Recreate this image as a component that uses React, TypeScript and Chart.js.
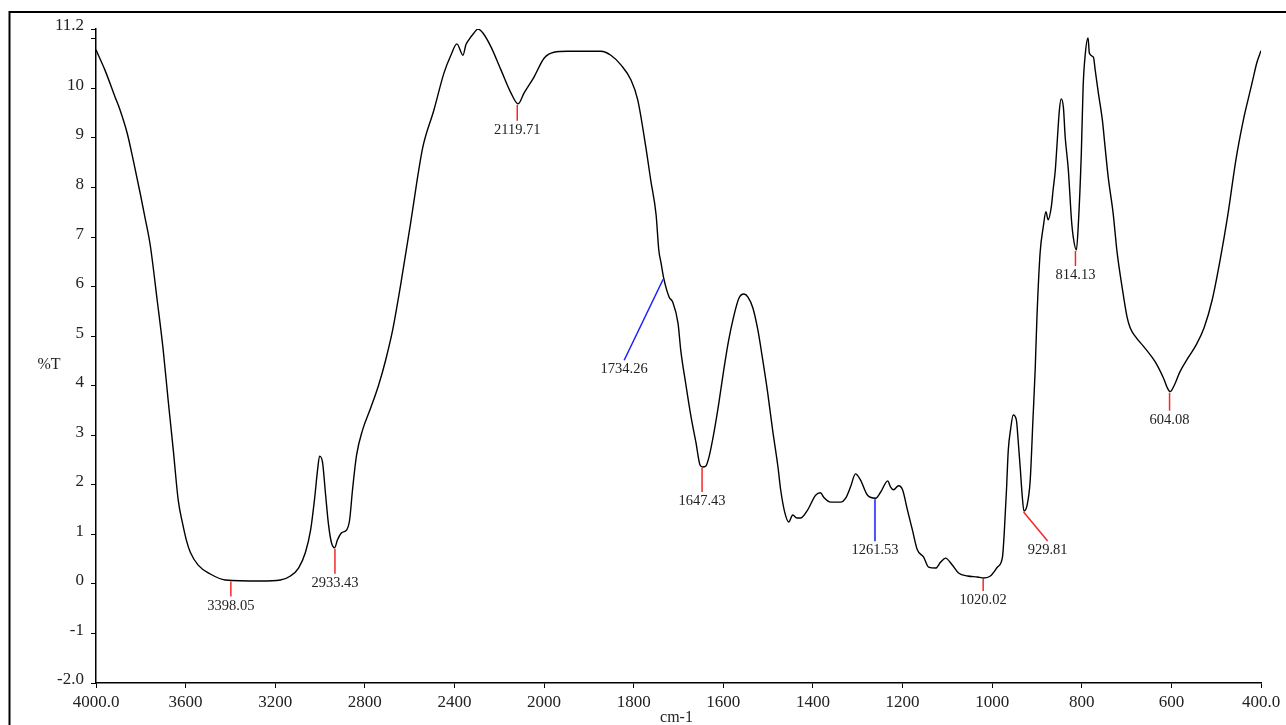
import React, { useEffect, useRef } from "react";
import { Chart, registerables } from "chart.js";

Chart.register(...registerables);

// Spectrum: wavenumber (cm-1) and %T
const wavenumbers = [
  4000, 3960, 3915, 3893, 3861, 3834, 3803, 3781, 3758, 3727, 3700, 3678, 3655, 3633, 3615, 3597, 3579, 3544, 3490, 3423,
  3266, 3177, 3132, 3096, 3065, 3042, 3025, 3011, 3002, 2989, 2975, 2962, 2949, 2935, 2922, 2904, 2881, 2868, 2855, 2837,
  2810, 2774, 2738, 2707, 2676, 2640, 2595, 2568, 2541, 2492, 2447, 2416, 2389, 2362, 2349, 2336, 2313, 2295, 2273, 2237,
  2192, 2148, 2116, 2089, 2045, 2000, 1978, 1947, 1873, 1851, 1828, 1806, 1791, 1773, 1762, 1750, 1744, 1739, 1733, 1721,
  1713, 1701, 1695, 1684, 1672, 1661, 1652, 1646, 1639, 1632, 1621, 1610, 1599, 1588, 1577, 1565, 1554, 1545, 1534, 1523,
  1512, 1501, 1490, 1478, 1472, 1463, 1454, 1445, 1436, 1427, 1412, 1394, 1383, 1376, 1360, 1338, 1327, 1316, 1305, 1294,
  1278, 1260, 1249, 1233, 1227, 1220, 1209, 1200, 1189, 1178, 1167, 1153, 1142, 1126, 1115, 1104, 1089, 1075, 1055, 1033,
  1019, 1004, 988, 977, 973, 968, 964, 959, 953, 946, 942, 937, 933, 929, 922, 915, 909, 904, 900, 893,
  886, 880, 875, 868, 864, 859, 855, 850, 846, 841, 837, 830, 823, 819, 812, 808, 801, 797, 792, 786,
  783, 774, 770, 763, 754, 748, 741, 730, 721, 710, 699, 692, 681, 659, 636, 618, 607, 603, 594, 581,
  563, 545, 527, 509, 492, 474, 456, 438, 429, 420, 409, 400,
];
const transmittance = [
  10.78, 10.37, 9.83, 9.57, 9.1, 8.56, 7.89, 7.39, 6.84, 5.73, 4.72, 3.71, 2.7, 1.69, 1.25, 0.89, 0.64, 0.38, 0.2, 0.08,
  0.06, 0.08, 0.16, 0.32, 0.64, 1.09, 1.69, 2.3, 2.58, 2.46, 1.79, 1.19, 0.83, 0.73, 0.89, 1.03, 1.09, 1.29, 1.9, 2.6,
  3.11, 3.55, 4.02, 4.52, 5.12, 6.04, 7.3, 8.11, 8.82, 9.56, 10.31, 10.67, 10.9, 10.67, 10.88, 10.98, 11.12, 11.2, 11.12, 10.84,
  10.37, 9.91, 9.69, 9.91, 10.23, 10.61, 10.73, 10.75, 10.75, 10.67, 10.47, 10.17, 9.77, 8.82, 8.15, 7.45, 6.74, 6.48, 6.17, 5.79,
  5.69, 5.26, 4.72, 4.05, 3.37, 2.85, 2.4, 2.36, 2.38, 2.56, 3.05, 3.65, 4.32, 4.92, 5.39, 5.77, 5.85, 5.79, 5.57, 5.13,
  4.52, 3.86, 3.11, 2.36, 1.9, 1.45, 1.25, 1.39, 1.33, 1.33, 1.49, 1.79, 1.84, 1.75, 1.65, 1.65, 1.73, 1.96, 2.22, 2.1,
  1.79, 1.73, 1.85, 2.08, 1.96, 1.9, 1.98, 1.9, 1.49, 1.09, 0.69, 0.54, 0.34, 0.32, 0.44, 0.52, 0.38, 0.22, 0.16, 0.14,
  0.12, 0.16, 0.34, 0.54, 1.03, 1.9, 2.7, 3.11, 3.41, 3.31, 2.9, 2.3, 1.79, 1.47, 1.59, 2.1, 3.31, 4.32, 5.39, 6.68,
  7.2, 7.51, 7.35, 7.61, 7.95, 8.36, 8.9, 9.56, 9.79, 9.62, 9.02, 8.36, 7.35, 7.0, 6.74, 7.2, 8.69, 10.03, 10.71, 11.02,
  10.71, 10.63, 10.37, 9.91, 9.36, 8.82, 8.21, 7.48, 6.68, 5.99, 5.39, 5.17, 5.0, 4.76, 4.48, 4.16, 3.92, 3.88, 4.0, 4.28,
  4.56, 4.82, 5.17, 5.73, 6.5, 7.45, 8.56, 9.42, 9.77, 10.11, 10.53, 10.76,
];

// Axis ticks
const xTickValues = [4000, 3600, 3200, 2800, 2400, 2000, 1800, 1600, 1400, 1200, 1000, 800, 600, 400];
const xTickLabels = ["4000.0", "3600", "3200", "2800", "2400", "2000", "1800", "1600", "1400", "1200", "1000", "800", "600", "400.0"];
const yTickValues = [-2, -1, 0, 1, 2, 3, 4, 5, 6, 7, 8, 9, 10, 11, 11.2];
const yTickLabels = ["-2.0", "-1", "0", "1", "2", "3", "4", "5", "6", "7", "8", "9", "10", "", "11.2"];

// Peak annotations
const peakWavenumbers = [3398.05, 2933.43, 2119.71, 1734.26, 1647.43, 1261.53, 1020.02, 929.81, 814.13, 604.08];
const peakTransmittance = [0.07, 0.73, 9.69, 6.17, 2.36, 1.73, 0.12, 1.47, 6.74, 3.88];
const peakLabels = ["3398.05", "2933.43", "2119.71", "1734.26", "1647.43", "1261.53", "1020.02", "929.81", "814.13", "604.08"];

// Marker styles (leader line offsets in px, colour)
const RED = "rgb(245,40,40)";
const BLUE = "rgb(30,30,250)";
const LIGHTBLUE = "rgb(80,80,255)";
const peakStyles = [
  { dx: 0, dy: 15, color: RED, w: 1.5 },
  { dx: 0, dy: 25, color: RED, w: 1.5 },
  { dx: 0, dy: 16, color: RED, w: 1.5 },
  { dx: -39, dy: 81, color: BLUE, w: 1.5 },
  { dx: 0, dy: 24, color: RED, w: 1.5 },
  { dx: 0, dy: 42, color: LIGHTBLUE, w: 2 },
  { dx: 0, dy: 12, color: RED, w: 1.5 },
  { dx: 24, dy: 29, color: RED, w: 1.5 },
  { dx: 0, dy: 15, color: RED, w: 1.5 },
  { dx: 0, dy: 18, color: RED, w: 1.5 },
];

const FONT = "'Liberation Serif', 'Times New Roman', serif";

// Split wavenumber axis: 4000-2000 at half the density of 2000-400
const toAxis = (wn: number) => (wn >= 2000 ? (4000 - wn) / 2 : 1000 + (2000 - wn));

const overlayPlugin = {
  id: "overlay",
  afterDatasetsDraw(chart: any) {
    const { ctx, scales, chartArea } = chart;
    const x = scales.x;
    const y = scales.y;
    ctx.save();
    // peaks
    peakWavenumbers.forEach((wn, i) => {
      const s = peakStyles[i];
      const px = x.getPixelForValue(toAxis(wn));
      const py = y.getPixelForValue(peakTransmittance[i]) + 1;
      ctx.strokeStyle = s.color;
      ctx.lineWidth = s.w;
      ctx.beginPath();
      ctx.moveTo(px, py);
      ctx.lineTo(px + s.dx, py + s.dy);
      ctx.stroke();
      ctx.fillStyle = "#222";
      ctx.font = `14.5px ${FONT}`;
      ctx.textAlign = "center";
      ctx.textBaseline = "top";
      ctx.fillText(peakLabels[i], px + s.dx, py + s.dy + 2);
    });
    // axis titles
    ctx.fillStyle = "#222";
    ctx.font = `16px ${FONT}`;
    ctx.textAlign = "center";
    ctx.textBaseline = "middle";
    ctx.fillText("%T", 49, (chartArea.top + chartArea.bottom) / 2 + 9);
    ctx.fillText("cm-1", (chartArea.left + chartArea.right) / 2 - 2, 718);
    // outer frame
    ctx.strokeStyle = "#000";
    ctx.lineWidth = 2;
    ctx.strokeRect(9.5, 12, 1300, 740);
    ctx.restore();
  },
};

export default function App() {
  const ref = useRef<HTMLCanvasElement | null>(null);
  useEffect(() => {
    if (!ref.current) return;
    const points = wavenumbers.map((w, i) => ({ x: toAxis(w), y: transmittance[i] }));
    const chart = new Chart(ref.current, {
      type: "line",
      data: {
        datasets: [
          {
            data: points,
            borderColor: "#000",
            borderWidth: 1.4,
            pointRadius: 0,
            cubicInterpolationMode: "monotone",
            fill: false,
          },
        ],
      },
      options: {
        animation: false,
        responsive: false,
        devicePixelRatio: 1,
        layout: { padding: { top: 29, right: 25, left: 0, bottom: 0 } },
        plugins: { legend: { display: false }, tooltip: { enabled: false } },
        scales: {
          x: {
            type: "linear",
            min: 0,
            max: toAxis(400),
            afterFit: (s: any) => {
              s.height = 42;
            },
            afterBuildTicks: (s: any) => {
              s.ticks = xTickValues.map((w) => ({ value: toAxis(w) }));
            },
            grid: { display: true, drawOnChartArea: false, drawTicks: true, tickLength: 5, color: "#000", lineWidth: 1 },
            border: { display: true, color: "#000", width: 1.5 },
            ticks: {
              autoSkip: false,
              maxRotation: 0,
              padding: 4,
              color: "#222",
              font: { family: FONT, size: 17 },
              callback: (_v: any, i: number) => xTickLabels[i],
            },
          },
          y: {
            type: "linear",
            min: -2,
            max: 11.2,
            afterFit: (s: any) => {
              s.width = 96;
            },
            afterBuildTicks: (s: any) => {
              s.ticks = yTickValues.map((v) => ({ value: v }));
            },
            grid: { display: true, drawOnChartArea: false, drawTicks: true, tickLength: 5, color: "#000", lineWidth: 1 },
            border: { display: true, color: "#000", width: 1.5 },
            ticks: {
              autoSkip: false,
              padding: 7,
              labelOffset: -3,
              color: "#222",
              font: { family: FONT, size: 17 },
              callback: (_v: any, i: number) => yTickLabels[i],
            },
          },
        },
      },
      plugins: [overlayPlugin],
    });
    return () => chart.destroy();
  }, []);
  return (
    <div style={{ position: "absolute", left: 0, top: 0, width: 1286, height: 725, background: "#fff" }}>
      <canvas ref={ref} width={1286} height={725} style={{ display: "block" }} />
    </div>
  );
}
